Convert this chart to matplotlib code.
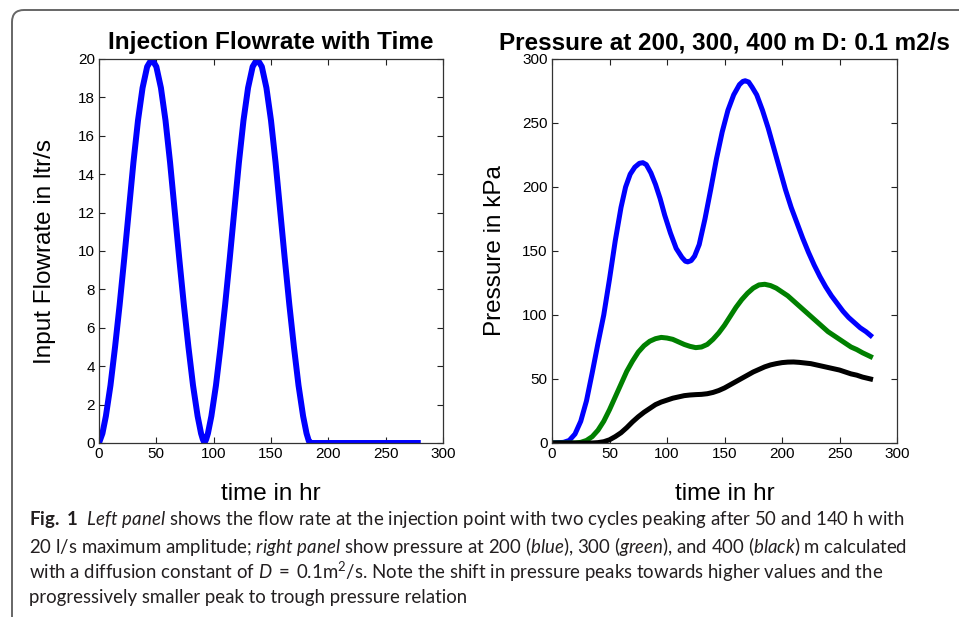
#!/usr/bin/env python3

import matplotlib
matplotlib.use('Agg')
import matplotlib.pyplot as plt
from matplotlib.patches import FancyBboxPatch
from matplotlib.transforms import IdentityTransform

# left panel: injection flowrate (ltr/s) against time (hr)
flow_t = [0, 3, 6, 10, 14, 18, 22, 26, 30, 34, 38, 42, 46, 50, 54, 58, 62, 66, 70, 74,
          78, 82, 86, 89, 90.5, 92, 93.5, 95, 98, 102, 106, 110, 114, 118, 122, 126, 130,
          134, 138, 142, 146, 150, 154, 158, 162, 166, 170, 174, 178, 181, 183, 185, 230,
          278]
flow_q = [0, 0.5, 1.4, 3.0, 5.0, 7.2, 9.6, 12.1, 14.6, 16.8, 18.5, 19.6, 20, 19.6, 18.5,
          16.8, 14.6, 12.1, 9.6, 7.2, 5.0, 3.0, 1.4, 0.5, 0.2, 0, 0.2, 0.5, 1.4, 3.0, 5.0,
          7.2, 9.6, 12.1, 14.6, 16.8, 18.5, 19.6, 20, 19.6, 18.5, 16.8, 14.6, 12.1, 9.6,
          7.2, 5.0, 3.0, 1.4, 0.5, 0.1, 0, 0, 0]

# right panel: pressure (kPa) at 200, 300, 400 m
p200_t = [0, 10, 15, 20, 25, 30, 35, 40, 45, 50, 55, 60, 64, 68, 72, 76, 79, 82, 86, 90,
          94, 98, 103, 108, 113, 116, 118, 121, 124, 128, 133, 138, 143, 148, 153, 158,
          163, 166, 168, 171, 174, 178, 183, 188, 193, 198, 203, 208, 213, 218, 223, 228,
          233, 238, 243, 248, 253, 258, 263, 268, 273, 277]
p200 = [0, 0.5, 2, 7, 17, 33, 55, 78, 100, 128, 158, 184, 200, 210, 215.5, 218.5, 219,
        217.5, 211, 202, 191, 178, 164, 152, 145, 142, 141.5, 142.5, 146, 155, 175, 198,
        222, 243, 260, 272, 280, 282.5, 283, 282, 278, 272, 260, 246, 230, 214, 198, 184,
        172, 160, 149, 139, 130, 122, 115, 109, 103, 98, 94, 90, 87, 84]

p300_t = [0, 20, 25, 30, 35, 40, 45, 50, 55, 60, 65, 70, 75, 80, 85, 90, 95, 100, 105,
          110, 115, 120, 125, 130, 135, 140, 145, 150, 155, 160, 165, 170, 175, 180, 185,
          190, 195, 200, 205, 210, 215, 220, 225, 230, 235, 240, 245, 250, 255, 260, 265,
          270, 277]
p300 = [0, 0, 0.5, 2, 5, 10, 17, 26, 36, 46, 56, 64, 71, 76, 79.5, 81.5, 82.5, 82, 81,
        79, 77, 75.5, 74.5, 75, 77, 81, 86, 92, 99, 106, 112, 117, 121, 123.5, 124, 123,
        121, 118, 115, 111, 107, 103, 99, 95, 91, 87, 84, 81, 78, 75, 73, 70.5, 67.5]

p400_t = [0, 35, 40, 45, 50, 55, 60, 65, 70, 75, 80, 85, 90, 95, 100, 105, 110, 115, 120,
          125, 130, 135, 140, 145, 150, 155, 160, 165, 170, 175, 180, 185, 190, 195, 200,
          205, 210, 215, 220, 225, 230, 235, 240, 245, 250, 255, 260, 265, 270, 277]
p400 = [0, 0, 0.3, 1, 2.5, 5, 8, 12, 16.5, 20.5, 24, 27, 30, 32, 33.5, 35, 36, 37, 37.5,
        37.8, 38, 38.5, 39.5, 41, 43, 45.5, 48, 50.5, 53, 55.5, 57.5, 59.5, 61, 62, 62.8,
        63.2, 63.3, 63, 62.5, 62, 61, 60, 59, 58, 57, 55.5, 54, 53, 51.5, 50]

x_ticks = [0, 50, 100, 150, 200, 250, 300]
flow_ticks = [0, 2, 4, 6, 8, 10, 12, 14, 16, 18, 20]
p_ticks = [0, 50, 100, 150, 200, 250, 300]

caption = [
    r"$\mathbf{Fig.\ 1}$  $\mathit{Left\ panel}$ shows the flow rate at the injection point "
    r"with two cycles peaking after 50 and 140 h with",
    r"20 l/s maximum amplitude; $\mathit{right\ panel}$ show pressure at 200 ($\mathit{blue}$), "
    r"300 ($\mathit{green}$), and 400 ($\mathit{black}$) m calculated",
    r"with a diffusion constant of $\mathit{D}\;=\;0.1\mathrm{m}^2$/s. Note the shift in "
    r"pressure peaks towards higher values and the",
    "progressively smaller peak to trough pressure relation",
]

plt.rcParams['font.family'] = ['Liberation Sans', 'DejaVu Sans']
plt.rcParams['mathtext.fontset'] = 'custom'
plt.rcParams['mathtext.rm'] = 'Lato'
plt.rcParams['mathtext.it'] = 'Lato:italic'
plt.rcParams['mathtext.bf'] = 'Lato:bold'


def style_axes(ax):
    ax.tick_params(direction='in', top=True, right=True, length=4, width=0.8,
                   labelsize=11, pad=3, colors='#222222', labelcolor='black')
    for s in ax.spines.values():
        s.set_color('#333333')
        s.set_linewidth(0.9)


fig = plt.figure(figsize=(9.59, 6.17), dpi=100)

ax1 = fig.add_axes([99 / 959, 1 - 443 / 617, 344 / 959, 384 / 617])
ax1.plot(flow_t, flow_q, color='#0000ff', lw=4.3, solid_joinstyle='round')
ax1.set_xlim(0, 300)
ax1.set_ylim(0, 20)
ax1.set_xticks(x_ticks)
ax1.set_yticks(flow_ticks)
ax1.set_title('Injection Flowrate with Time', fontsize=17.5, fontweight='bold', pad=7)
ax1.set_xlabel('time in hr', fontsize=17.5)
ax1.set_ylabel('Input Flowrate in ltr/s', fontsize=17.5)
ax1.xaxis.set_label_coords(0.5, -0.105)
ax1.yaxis.set_label_coords(-0.125, 0.5)
style_axes(ax1)

ax2 = fig.add_axes([552 / 959, 1 - 443 / 617, 345 / 959, 384 / 617])
ax2.plot(p200_t, p200, color='#0000ff', lw=3.6, solid_joinstyle='round')
ax2.plot(p300_t, p300, color='#008000', lw=3.6, solid_joinstyle='round')
ax2.plot(p400_t, p400, color='black', lw=3.6, solid_joinstyle='round')
ax2.set_xlim(0, 300)
ax2.set_ylim(0, 300)
ax2.set_xticks(x_ticks)
ax2.set_yticks(p_ticks)
ax2.set_title('Pressure at 200, 300, 400 m D: 0.1 m2/s', fontsize=17.5,
              fontweight='bold', pad=7)
ax2.set_xlabel('time in hr', fontsize=17.5)
ax2.set_ylabel('Pressure in kPa', fontsize=17.5)
ax2.xaxis.set_label_coords(0.5, -0.105)
ax2.yaxis.set_label_coords(-0.133, 0.5)
style_axes(ax2)

# caption below the panels
for i, line in enumerate(caption):
    fig.text(29 / 959, 1 - (520 + 26 * i) / 617, line, fontsize=13.4, family='Lato',
             color='#231f20', ha='left', va='center')

# rounded frame on the top-left
frame = FancyBboxPatch((12, -60), 2000, 607 + 60, boxstyle='round,pad=0,rounding_size=12',
                       transform=IdentityTransform(), fill=False, edgecolor='#666666',
                       lw=1.4)
fig.add_artist(frame)

fig.savefig('out.png', dpi=100)
